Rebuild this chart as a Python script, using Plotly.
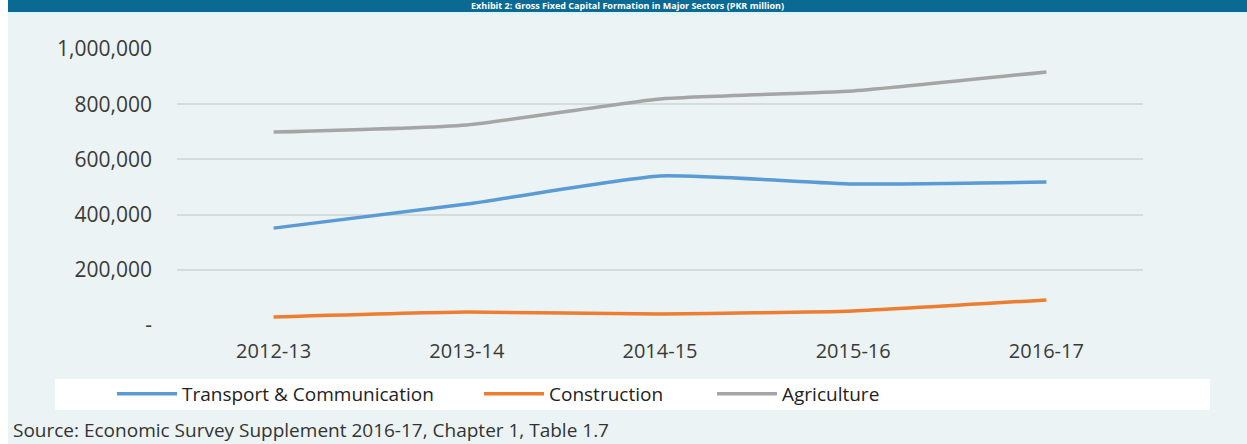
import plotly.graph_objects as go

# Gross fixed capital formation by sector (PKR million)
years = ["2012-13", "2013-14", "2014-15", "2015-16", "2016-17"]
transport_comm = [351000, 438000, 540000, 511000, 518000]
construction = [29000, 47000, 40000, 51000, 91000]
agriculture = [699000, 725000, 819000, 848000, 917000]

y_ticks = [0, 200000, 400000, 600000, 800000, 1000000]
y_labels = ["-", "200,000", "400,000", "600,000", "800,000", "1,000,000"]

W, H = 1247, 444
L, R, T, B = 177, 104, 49, 119
PW, PH = W - L - R, H - T - B

FONT = "Open Sans"
TXT = "#3a3a3a"


def px_x(px):
    return (px - L) / PW


def px_y(py):
    return (H - B - py) / PH


fig = go.Figure()
series = [
    ("Transport & Communication", transport_comm, "#5b9bd5", "legend", 112),
    ("Construction", construction, "#ed7d31", "legend2", 479),
    ("Agriculture", agriculture, "#a5a5a5", "legend3", 712),
]
legend_cfg = {}
for name, vals, col, leg, lx in series:
    fig.add_trace(go.Scatter(
        x=years, y=vals, name=name, mode="lines", legend=leg,
        line=dict(color=col, width=3.5, shape="spline", smoothing=0.5),
    ))
    legend_cfg[leg] = dict(
        orientation="h", x=px_x(lx), y=px_y(394), xanchor="left", yanchor="middle",
        bgcolor="rgba(0,0,0,0)", font=dict(family=FONT, size=19, color="#222222"),
        itemwidth=60,
    )

shapes = [
    # white strip along the left edge
    dict(type="rect", xref="paper", yref="paper", x0=px_x(0), x1=px_x(8),
         y0=px_y(H), y1=px_y(0), fillcolor="white", line_width=0, layer="below"),
    # title bar
    dict(type="rect", xref="paper", yref="paper", x0=px_x(8), x1=px_x(W),
         y0=px_y(12), y1=px_y(0), fillcolor="#0b6a93", line_width=0, layer="below"),
    dict(type="rect", xref="paper", yref="paper", x0=px_x(8), x1=px_x(W),
         y0=px_y(15), y1=px_y(12), fillcolor="#def4f8", line_width=0, layer="below"),
    # legend box
    dict(type="rect", xref="paper", yref="paper", x0=px_x(55), x1=px_x(1210),
         y0=px_y(410), y1=px_y(379), fillcolor="white", line_width=0, layer="below"),
]

annotations = [
    dict(text="<b>Exhibit 2: Gross Fixed Capital Formation in Major Sectors (PKR million)</b>",
         xref="paper", yref="paper", x=px_x(627), y=px_y(6), xanchor="center",
         yanchor="middle", showarrow=False, font=dict(family=FONT, size=9, color="white")),
    dict(text="Source: Economic Survey Supplement 2016-17, Chapter 1, Table 1.7",
         xref="paper", yref="paper", x=px_x(11), y=px_y(430), xanchor="left",
         yanchor="middle", showarrow=False, font=dict(family=FONT, size=19, color="#333333")),
]

fig.update_layout(
    width=W, height=H,
    margin=dict(l=L, r=R, t=T, b=B),
    paper_bgcolor="#ebf3f4",
    plot_bgcolor="rgba(0,0,0,0)",
    font=dict(family=FONT, color=TXT),
    shapes=shapes,
    annotations=annotations,
    showlegend=True,
    xaxis=dict(
        type="category", range=[-0.5, 4.5], showgrid=False, zeroline=False,
        showline=False, ticks="", tickfont=dict(size=20, color=TXT), ticklabelstandoff=12,
    ),
    yaxis=dict(
        range=[0, 1000000], tickvals=y_ticks, ticktext=y_labels,
        showgrid=True, gridcolor="#d6dbdc", gridwidth=2, zeroline=False,
        showline=False, ticks="", tickfont=dict(size=21, color=TXT), ticklabelstandoff=24,
    ),
    **legend_cfg,
)

fig.write_html("out.html")
